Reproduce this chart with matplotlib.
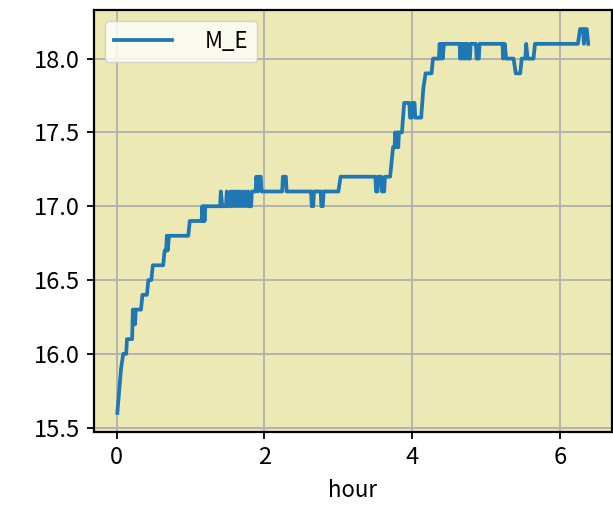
import numpy as np
import matplotlib
matplotlib.use('Agg')
import matplotlib.pyplot as plt

plt.rcParams['font.family'] = ['Noto Sans CJK SC', 'DejaVu Sans']
plt.rcParams['axes.unicode_minus'] = False

# Readings of M_E against elapsed hours
hour = [0.01, 0.06, 0.09, 0.13, 0.14, 0.21, 0.22, 0.23, 0.24, 0.25, 0.26,
        0.33, 0.35, 0.41, 0.43, 0.47, 0.49, 0.63, 0.65, 0.67, 0.68, 0.69,
        0.71, 0.97, 0.99, 1.15, 1.16, 1.17, 1.18, 1.19, 1.20, 1.40, 1.41,
        1.43, 1.48, 1.49, 1.51, 1.54, 1.55, 1.58, 1.59, 1.62, 1.63, 1.66,
        1.67, 1.70, 1.71, 1.74, 1.75, 1.78, 1.79, 1.82, 1.83, 1.88, 1.89,
        1.91, 1.92, 1.95, 1.96, 2.24, 2.25, 2.29, 2.30, 2.63, 2.64, 2.66,
        2.67, 2.76, 2.77, 2.79, 2.80, 3.00, 3.03, 3.50, 3.51, 3.53, 3.54,
        3.58, 3.59, 3.62, 3.63, 3.70, 3.72, 3.74, 3.76, 3.77, 3.79, 3.80,
        3.81, 3.82, 3.86, 3.89, 3.96, 3.97, 3.99, 4.00, 4.03, 4.04, 4.12,
        4.15, 4.18, 4.26, 4.28, 4.36, 4.37, 4.38, 4.40, 4.41, 4.43, 4.64,
        4.65, 4.66, 4.67, 4.69, 4.70, 4.72, 4.73, 4.75, 4.76, 4.78, 4.79,
        4.86, 4.87, 4.90, 4.91, 5.22, 5.23, 5.25, 5.27, 5.37, 5.40, 5.46,
        5.48, 5.53, 5.54, 5.56, 5.64, 5.66, 6.24, 6.27, 6.31, 6.32, 6.33,
        6.36, 6.38]
m_e = [15.6, 15.9, 16.0, 16.0, 16.1, 16.1, 16.3, 16.2, 16.3, 16.2, 16.3,
       16.3, 16.4, 16.4, 16.5, 16.5, 16.6, 16.6, 16.7, 16.7, 16.8, 16.7,
       16.8, 16.8, 16.9, 16.9, 17.0, 16.9, 17.0, 16.9, 17.0, 17.0, 17.1,
       17.0, 17.0, 17.1, 17.0, 17.1, 17.0, 17.1, 17.0, 17.1, 17.0, 17.1,
       17.0, 17.1, 17.0, 17.1, 17.0, 17.1, 17.0, 17.0, 17.1, 17.1, 17.2,
       17.1, 17.2, 17.2, 17.1, 17.1, 17.2, 17.2, 17.1, 17.1, 17.0, 17.0,
       17.1, 17.1, 17.0, 17.0, 17.1, 17.1, 17.2, 17.2, 17.1, 17.1, 17.2,
       17.2, 17.1, 17.1, 17.2, 17.2, 17.3, 17.4, 17.4, 17.5, 17.4, 17.5,
       17.4, 17.5, 17.5, 17.7, 17.7, 17.6, 17.6, 17.7, 17.7, 17.6, 17.6,
       17.8, 17.9, 17.9, 18.0, 18.0, 18.1, 18.0, 18.1, 18.0, 18.1, 18.1,
       18.0, 18.1, 18.0, 18.1, 18.0, 18.1, 18.0, 18.1, 18.0, 18.0, 18.1,
       18.1, 18.0, 18.0, 18.1, 18.1, 18.0, 18.1, 18.0, 18.0, 17.9, 17.9,
       18.0, 18.0, 18.1, 18.0, 18.0, 18.1, 18.1, 18.2, 18.2, 18.1, 18.2,
       18.2, 18.1]

fig = plt.figure(figsize=(6.13, 5.2), dpi=100)
ax = fig.add_axes([0.153, 0.169, 0.845, 0.812])
ax.set_facecolor('#ece9b4')

ax.plot(hour, m_e, color='#1f77b4', linewidth=2.7, label='M_E')
ax.grid(color='#b0b0b0', linewidth=1.3)
ax.set_xticks([0, 2, 4, 6])
ax.set_yticks([15.5, 16.0, 16.5, 17.0, 17.5, 18.0])
ax.set_yticklabels(['15.5', '16.0', '16.5', '17.0', '17.5', '18.0'])
ax.tick_params(labelsize=17, width=1.3, length=5, pad=5)
for s in ax.spines.values():
    s.set_linewidth(1.6)
ax.set_xlabel('hour', fontsize=16, labelpad=7)
ax.legend(loc='upper left', fontsize=16, handlelength=2.6, handletextpad=1.5,
          borderpad=0.4, framealpha=0.8)

plt.savefig('out.png', dpi=100)
